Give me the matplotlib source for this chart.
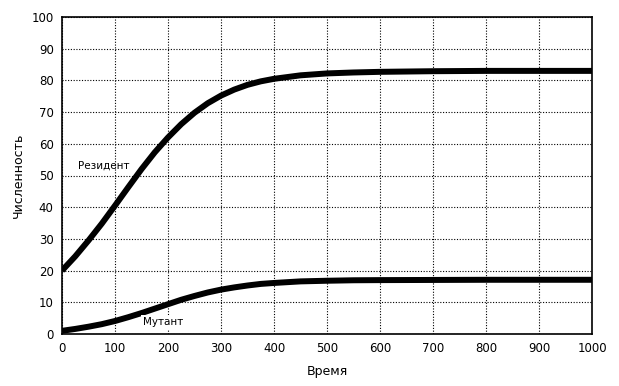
import numpy as np
import matplotlib.pyplot as plt

# значення
t = [0, 25, 50, 75, 100, 125, 150, 175, 200, 225, 250, 275, 300, 325, 350, 375, 400, 450, 500, 550, 600, 700, 800, 900, 1000]
resident = [20, 24.5, 29.5, 34.8, 40.5, 46.3, 52, 57.3, 62, 66.2, 69.8, 72.8, 75.2, 77.1, 78.6, 79.7, 80.5, 81.6, 82.2, 82.5, 82.7, 82.9, 83, 83, 83]
mutant = [1, 1.6, 2.3, 3.1, 4.1, 5.3, 6.6, 8, 9.4, 10.8, 12, 13.1, 14, 14.7, 15.3, 15.8, 16.1, 16.6, 16.8, 16.95, 17, 17.05, 17.1, 17.1, 17.1]

xticks = list(range(0, 1001, 100))
yticks = list(range(0, 101, 10))

plt.rcParams['font.family'] = ['DejaVu Sans']

fig = plt.figure(figsize=(6.19, 3.86), dpi=100)
ax = fig.add_axes([62 / 619, 1 - 334 / 386, 530 / 619, 317 / 386])

ax.plot(t, resident, color="black", lw=4.3, solid_capstyle="butt", zorder=3)
ax.plot(t, mutant, color="black", lw=4.3, solid_capstyle="butt", zorder=3)

ax.text(30, 53, "Резидент", fontsize=7.5, va="center", ha="left", zorder=4)
ax.text(153, 3.8, "Мутант", fontsize=7.5, va="center", ha="left", zorder=4,
        bbox=dict(facecolor="white", edgecolor="none", pad=1.5))

ax.set_xlim(0, 1000)
ax.set_ylim(0, 100)
ax.set_xticks(xticks)
ax.set_yticks(yticks)
ax.tick_params(length=0, labelsize=8.5, pad=6, colors="black")
ax.grid(True, color="black", linestyle=(0, (1, 1.5)), lw=0.8)
ax.set_axisbelow(True)
for s in ax.spines.values():
    s.set_linewidth(1.2)

ax.set_xlabel("Время", fontsize=9, labelpad=7)
ax.set_ylabel("Численность", fontsize=9, labelpad=5)

fig.savefig("out.png", dpi=100)
